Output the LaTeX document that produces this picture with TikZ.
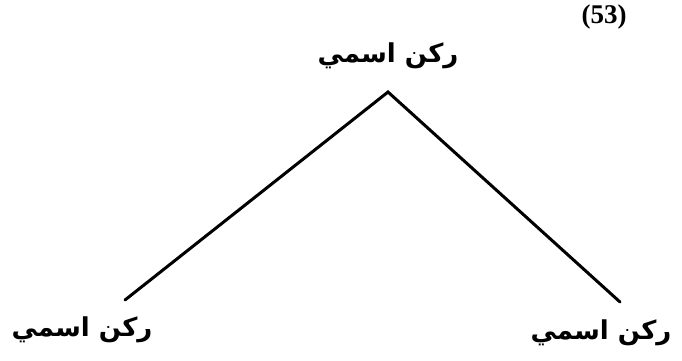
\documentclass[tikz,border=0pt]{standalone}
\usepackage{fontspec}
\setmainfont{Liberation Serif}
\newfontfamily\arabicfont[Script=Arabic]{DejaVu Sans}
\TeXXeTstate=1
\begin{document}
\begin{tikzpicture}[x=1pt,y=-1pt,
  lbl/.style={font=\arabicfont\bfseries\fontsize{26}{30}\selectfont, inner sep=0pt},
  edge/.style={line width=3pt, line cap=round, line join=miter}]
\useasboundingbox (0,0) rectangle (682,360);
\node[font=\bfseries\fontsize{27}{30}\selectfont, inner sep=0pt] (num) at (604,17) {(53)};
\node[lbl] (top) at (388,56) {\beginR ركن اسمي\endR};
\node[lbl] (left) at (82,330) {\beginR ركن اسمي\endR};
\node[lbl] (right) at (601,333) {\beginR ركن اسمي\endR};
\coordinate (apex) at (388,92);
\coordinate (lend) at (125,300);
\coordinate (rend) at (620,302);
\draw[edge] (lend) -- (apex) -- (rend);
\end{tikzpicture}
\end{document}
